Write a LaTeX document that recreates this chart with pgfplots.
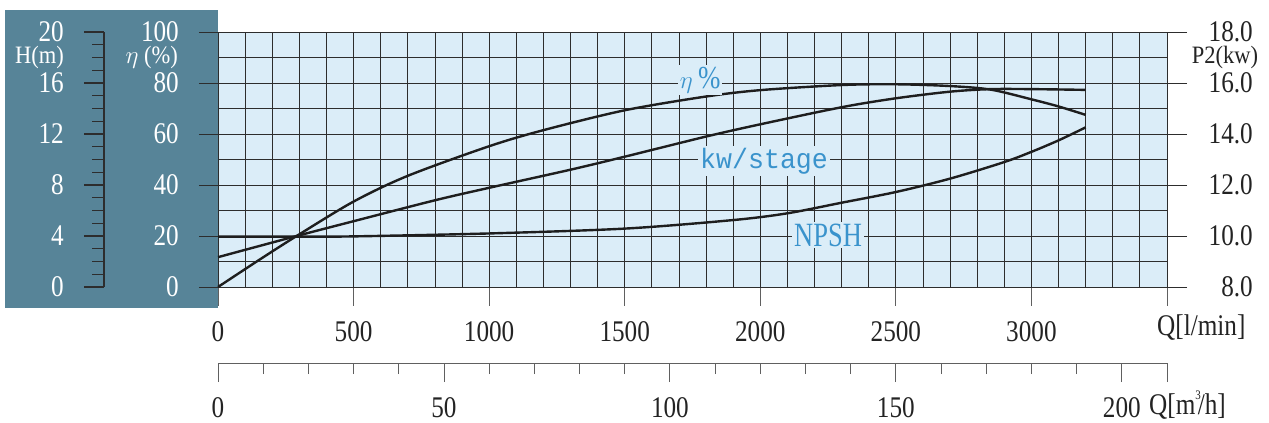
\documentclass[border=0pt]{standalone}
\usepackage{fontspec}
\setmainfont{Liberation Serif}[FakeStretch=0.84]
\newfontfamily\labmono{Liberation Mono}[FakeStretch=0.95]
\newfontfamily\labserif{Liberation Serif}[FakeStretch=0.78]
\newfontfamily\axlab{Liberation Serif}[FakeStretch=0.9]
\usepackage{pgfplots}
\usepackage{pgfplotstable}
\pgfplotsset{compat=1.18}

\definecolor{panel}{RGB}{87,132,152}
\definecolor{bgblue}{RGB}{219,237,248}
\definecolor{lblue}{RGB}{58,147,204}
\definecolor{gridc}{RGB}{45,45,45}
\definecolor{tickc}{RGB}{35,35,35}
\definecolor{curvec}{RGB}{30,30,30}

\newcommand\tf{\fontsize{30bp}{30bp}\selectfont}
\newcommand\lf{\axlab\fontsize{25bp}{25bp}\selectfont}

% Q [l/min], efficiency [%]
\pgfplotstableread{
Q eta
0 0
150 10.5
290 20
500 33.5
700 43.6
1000 55.2
1200 61.5
1500 69.3
1800 74.7
2000 77.2
2300 79.2
2500 79.5
2700 78.8
2850 77.4
3000 73.6
3100 70.8
3200 67.5
}\etadata

% Q [l/min], power P2 [kW]
\pgfplotstableread{
Q P
0 9.17
290 10.0
500 10.58
800 11.40
1000 11.89
1300 12.60
1500 13.11
1800 13.90
2000 14.38
2300 15.05
2500 15.40
2700 15.66
2850 15.76
3000 15.76
3200 15.73
}\powdata

% Q [l/min], NPSH [m]
\pgfplotstableread{
Q H
0 3.95
300 3.95
500 3.97
1000 4.20
1500 4.58
1900 5.25
2100 5.78
2300 6.61
2500 7.45
2700 8.50
2900 9.80
3000 10.60
3100 11.50
3200 12.52
}\npshdata

\begin{document}
\begin{tikzpicture}
\path[use as bounding box] (0bp,0bp) rectangle (1269bp,423bp);
\fill[panel] (5bp,115bp) rectangle (218bp,413bp);

% main axis: efficiency
\begin{axis}[
  at={(218bp,136bp)}, anchor=south west,
  scale only axis, width=949bp, height=255bp,
  xmin=0, xmax=3500, ymin=0, ymax=100,
  axis background/.style={fill=bgblue},
  axis line style={draw=gridc, line width=0.8bp},
  xtick={0,500,...,3500},
  xticklabels={0,500,1000,1500,2000,2500,3000,{}},
  minor xtick={100,200,...,3400},
  ytick={0,20,...,100},
  minor ytick={10,30,...,90},
  grid=both,
  major grid style={draw=gridc, line width=0.8bp},
  minor grid style={draw=gridc, line width=0.8bp},
  tick pos=left, tick align=outside,
  major tick length=19bp, minor tick length=0pt,
  xtick style={draw=gray!75!black, line width=0.9bp},
  ytick style={draw=gridc, line width=0.9bp},
  ticklabel style={font=\tf, inner sep=0pt},
  xticklabel style={text=tickc, anchor=center, yshift=-26bp},
  yticklabel style={text=white, anchor=east, xshift=-20bp},
  /pgf/number format/assume math mode=true,
  /pgf/number format/set thousands separator={},
  clip=false,
]
\addplot[curvec, line width=2.4bp, smooth] table[x=Q, y=eta] {\etadata};
\node[fill=bgblue, inner sep=2bp, text=lblue, font=\fontsize{32bp}{32bp}\selectfont] at (axis cs:1778,81.2) {$\eta$\,\%};
\node[fill=bgblue, inner sep=2bp, text=lblue, font=\labmono\fontsize{28bp}{28bp}\selectfont] at (axis cs:2014,49.4) {kw/stage};
\node[fill=bgblue, inner sep=2bp, text=lblue, font=\labserif\fontsize{34bp}{34bp}\selectfont] at (axis cs:2250,20.4) {NPSH};
\end{axis}

% power axis (right)
\begin{axis}[
  at={(218bp,136bp)}, anchor=south west,
  scale only axis, width=949bp, height=255bp,
  xmin=0, xmax=3500, ymin=8, ymax=18,
  axis x line=none, axis y line*=right,
  axis line style={draw=gridc, line width=0.8bp},
  ytick={8,10,12,14,16,18},
  tick align=outside, major tick length=20bp,
  ytick style={draw=gridc, line width=0.9bp},
  yticklabel style={font=\tf, text=tickc, inner sep=0pt, anchor=east, xshift=66bp,
    /pgf/number format/.cd, fixed, fixed zerofill, precision=1},
  /pgf/number format/assume math mode=true,
  clip=false,
]
\addplot[curvec, line width=2.4bp, smooth] table[x=Q, y=P] {\powdata};
\end{axis}

% NPSH (H scale, hidden)
\begin{axis}[
  at={(218bp,136bp)}, anchor=south west,
  scale only axis, width=949bp, height=255bp,
  xmin=0, xmax=3500, ymin=0, ymax=20,
  hide axis, clip=false,
]
\addplot[curvec, line width=2.4bp, smooth] table[x=Q, y=H] {\npshdata};
\end{axis}

% H(m) scale on the panel
\begin{axis}[
  at={(104bp,136bp)}, anchor=south west,
  scale only axis, width=1bp, height=255bp,
  xmin=0, xmax=1, ymin=0, ymax=20,
  axis x line=none, axis y line*=left,
  axis line style={draw=gridc, line width=1.2bp},
  ytick={0,4,...,20},
  minor ytick={1,2,3,5,6,7,9,10,11,13,14,15,17,18,19},
  tick align=outside, major tick length=20bp, minor tick length=12bp,
  every tick/.style={draw=gridc, line width=1.1bp},
  yticklabel style={font=\tf, text=white, inner sep=0pt, anchor=east, xshift=-20bp},
  /pgf/number format/assume math mode=true,
]
\end{axis}

% second flow scale in m3/h
\begin{axis}[
  at={(218bp,60bp)}, anchor=south west,
  scale only axis, width=949bp, height=1bp,
  xmin=0, xmax=210, ymin=0, ymax=1,
  axis y line=none, axis x line*=bottom,
  axis line style={draw=gray!75!black, line width=1bp},
  xtick={0,50,100,150,200,210},
  xticklabels={0,50,100,150,200,{}},
  minor xtick={10,20,30,40,60,70,80,90,110,120,130,140,160,170,180,190},
  tick align=outside, major tick length=19bp, minor tick length=11bp,
  every tick/.style={draw=gray!75!black, line width=0.9bp},
  xticklabel style={font=\tf, text=tickc, inner sep=0pt, anchor=center, yshift=-26bp},
  /pgf/number format/assume math mode=true,
]
\end{axis}

\node[anchor=east, text=white, font=\lf, inner sep=0pt] at (64bp,365.5bp) {H(m)};
\node[anchor=east, text=white, font=\lf, inner sep=0pt] at (178bp,365.5bp) {$\eta$ (\%)};
\node[anchor=center, text=tickc, font=\lf, inner sep=0pt] at (1225bp,365.5bp) {P2(kw)};
\node[anchor=west, text=tickc, font=\tf, inner sep=0pt] at (1157bp,95bp) {Q[l/min]};
\node[anchor=west, text=tickc, font=\tf, inner sep=0pt] at (1149bp,18bp) {Q[m\raisebox{0.5em}{\fontsize{13bp}{13bp}\selectfont 3}\kern-0.1em/h]};
\end{tikzpicture}
\end{document}
